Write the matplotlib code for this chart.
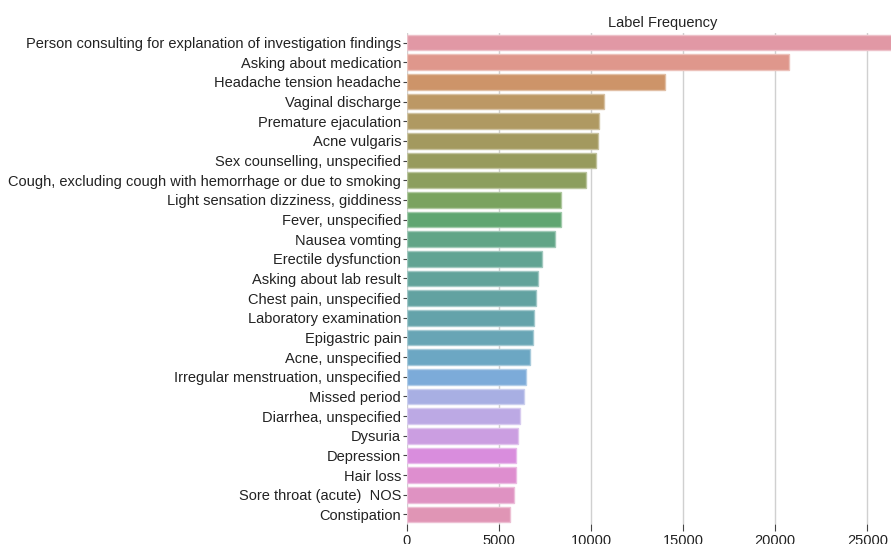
import matplotlib
matplotlib.use("Agg")
import matplotlib.pyplot as plt
import seaborn as sns
import numpy as np

labels = [
    "Person consulting for explanation of investigation findings",
    "Asking about medication",
    "Headache tension headache",
    "Vaginal discharge",
    "Premature ejaculation",
    "Acne vulgaris",
    "Sex counselling, unspecified",
    "Cough, excluding cough with hemorrhage or due to smoking",
    "Light sensation dizziness, giddiness",
    "Fever, unspecified",
    "Nausea vomting",
    "Erectile dysfunction",
    "Asking about lab result",
    "Chest pain, unspecified",
    "Laboratory examination",
    "Epigastric pain",
    "Acne, unspecified",
    "Irregular menstruation, unspecified",
    "Missed period",
    "Diarrhea, unspecified",
    "Dysuria",
    "Depression",
    "Hair loss",
    "Sore throat (acute)  NOS",
    "Constipation",
]
counts = [26480, 20770, 14020, 10690, 10455, 10383, 10292, 9716, 8375, 8357,
          8068, 7362, 7145, 7018, 6928, 6838, 6710, 6458, 6367, 6133,
          6025, 5952, 5934, 5843, 5625]
xticks = [0, 5000, 10000, 15000, 20000, 25000]
title = "Label Frequency"

plt.rcParams['font.family'] = ['Liberation Sans', 'DejaVu Sans']

fig = plt.figure(figsize=(8.91, 5.44), dpi=100)
ax = fig.add_axes([406.7/891, (544-524.3)/544, 512.3/891, 491.6/544])

pal = sns.color_palette("husl", len(labels))
pal = [tuple(0.88 * np.array(sns.desaturate(c, 0.62)) + 0.12) for c in pal]
edge = [tuple(0.6 * np.array(c) + 0.4) for c in pal]
y = np.arange(len(labels))
ax.barh(y, counts, height=0.8, color=pal, edgecolor=edge, linewidth=1.0, zorder=2)
ax.set_ylim(len(labels) - 0.5, -0.5)
ax.set_xlim(0, max(counts) * 1.05)
ax.set_yticks(y)
ax.set_yticklabels(labels, fontsize=10.5, color='#222222')
ax.set_xticks(xticks)
ax.set_xticklabels([str(t) for t in xticks], fontsize=10.5, color='#222222')
ax.grid(axis='x', color='#d0d0d0', linewidth=1, zorder=0)
ax.set_axisbelow(True)
for s in ax.spines.values():
    s.set_visible(False)
ax.tick_params(axis='y', length=3, width=0.8, color='#444444', pad=1)
ax.tick_params(axis='x', length=5, width=0.8, color='#444444', pad=2)
ax.set_title(title, fontsize=10.5, color='#222222', pad=4)

fig.savefig("out.png", dpi=100)
